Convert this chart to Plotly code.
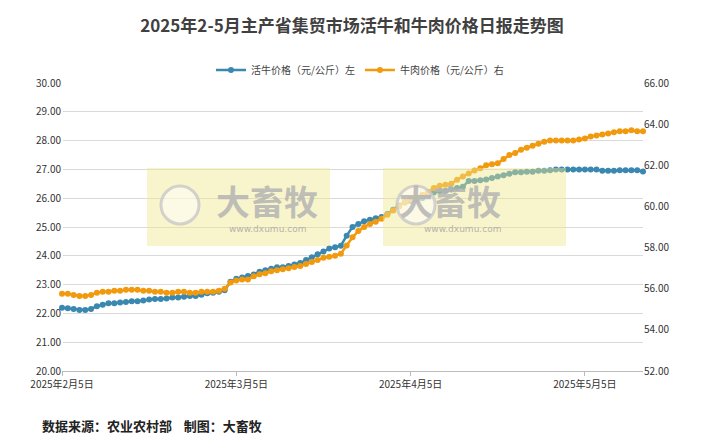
import plotly.graph_objects as go

# 活牛价格 (元/公斤), 左轴
cattle = [22.2, 22.18, 22.15, 22.12, 22.12, 22.15, 22.25, 22.3, 22.35, 22.35,
          22.38, 22.4, 22.42, 22.42, 22.45, 22.48, 22.5, 22.5, 22.52, 22.55,
          22.55, 22.58, 22.6, 22.6, 22.65, 22.7, 22.72, 22.75, 22.8, 23.1,
          23.2, 23.25, 23.3, 23.35, 23.45, 23.5, 23.55, 23.6, 23.6, 23.65,
          23.7, 23.75, 23.85, 23.95, 24.05, 24.15, 24.25, 24.3, 24.35, 24.7,
          25.0, 25.1, 25.2, 25.25, 25.3, 25.35, 25.45, 25.6, 25.75, 25.85,
          25.9, 25.95, 26.0, 26.1, 26.2, 26.25, 26.25, 26.3, 26.35, 26.4,
          26.6, 26.6, 26.62, 26.65, 26.7, 26.75, 26.8, 26.85, 26.9, 26.9,
          26.92, 26.92, 26.95, 26.95, 26.97, 27.0, 27.0, 27.0, 27.0, 27.0,
          27.0, 27.0, 27.0, 26.95, 26.95, 26.95, 26.97, 26.97, 26.97, 26.97, 26.93]

# 牛肉价格 (元/公斤), 右轴
beef = [55.75, 55.75, 55.7, 55.65, 55.65, 55.7, 55.8, 55.85, 55.85, 55.9,
        55.9, 55.95, 55.95, 55.95, 55.9, 55.9, 55.85, 55.85, 55.8, 55.8,
        55.85, 55.85, 55.8, 55.8, 55.85, 55.85, 55.85, 55.9, 56.0, 56.3,
        56.4, 56.45, 56.45, 56.6, 56.7, 56.75, 56.85, 56.9, 56.95, 57.0,
        57.05, 57.1, 57.2, 57.3, 57.4, 57.5, 57.55, 57.6, 57.7, 58.1,
        58.5, 58.8, 59.0, 59.15, 59.25, 59.4, 59.6, 59.8, 60.0, 60.2,
        60.35, 60.45, 60.55, 60.7, 60.9, 61.0, 61.05, 61.1, 61.3, 61.45,
        61.6, 61.75, 61.85, 62.0, 62.05, 62.1, 62.3, 62.5, 62.6, 62.75,
        62.85, 62.95, 63.05, 63.15, 63.2, 63.2, 63.2, 63.2, 63.2, 63.25,
        63.3, 63.4, 63.45, 63.5, 63.55, 63.6, 63.65, 63.65, 63.7, 63.65, 63.65]

tick_pos = [0, 30, 60, 90]
tick_labels = ["2025年2月5日", "2025年3月5日", "2025年4月5日", "2025年5月5日"]

idx = list(range(len(cattle)))
font = "Noto Sans CJK SC"

fig = go.Figure()
fig.add_trace(go.Scatter(
    x=idx, y=cattle, name="活牛价格（元/公斤）左", mode="lines+markers",
    line=dict(color="#3a88b0", width=2.5), marker=dict(size=6, color="#3a88b0"),
    cliponaxis=False
))
fig.add_trace(go.Scatter(
    x=idx, y=beef, name="牛肉价格（元/公斤）右", mode="lines+markers", yaxis="y2",
    line=dict(color="#f29a0e", width=2.5), marker=dict(size=6, color="#f29a0e"),
    cliponaxis=False
))

# 页面 body 有 8px 边距, 所有像素坐标减去 8
OFF = 8
W, H = 704 - OFF, 439 - OFF
L, T, R, B = 62 - OFF, 83 - OFF, 643 - OFF, 371 - OFF


def px(x0, y0, x1, y1):
    x0, x1, y0, y1 = x0 - OFF, x1 - OFF, y0 - OFF, y1 - OFF
    return dict(x0=(x0 - L) / (R - L), x1=(x1 - L) / (R - L),
                y0=(B - y0) / (B - T), y1=(B - y1) / (B - T))


def pxx(x):
    return (x - OFF - L) / (R - L)


def pxy(y):
    return (B - (y - OFF)) / (B - T)


for bx in [147, 383]:
    fig.add_shape(type="rect", xref="paper", yref="paper", layer="above",
                  fillcolor="rgba(240,230,140,0.45)", line_width=0, **px(bx, 168, bx + 183, 246))
    fig.add_shape(type="circle", xref="paper", yref="paper", layer="above",
                  fillcolor="rgba(255,255,255,0.5)", line=dict(color="rgba(200,200,200,0.8)", width=3),
                  **px(bx + 14, 186, bx + 52, 224))
    fig.add_annotation(x=pxx(bx + 120), y=pxy(200), xref="paper", yref="paper",
                       text="<b>大畜牧</b>", showarrow=False,
                       font=dict(family=font, size=34, color="rgba(180,180,180,0.85)"))
    fig.add_annotation(x=pxx(bx + 120), y=pxy(229), xref="paper", yref="paper",
                       text="www.dxumu.com", showarrow=False,
                       font=dict(family="DejaVu Sans", size=9, color="rgba(170,170,170,0.9)"))

fig.add_annotation(x=pxx(40), y=pxy(425), xref="paper", yref="paper",
                   xanchor="left", yanchor="middle",
                   text="<b>数据来源：农业农村部    制图：大畜牧</b>", showarrow=False,
                   font=dict(family=font, size=13, color="#222"))

fig.update_layout(
    width=W, height=H,
    margin=dict(l=L, r=W - R, t=T, b=H - B, autoexpand=False),
    paper_bgcolor="white", plot_bgcolor="white",
    title=dict(text="<b>2025年2-5月主产省集贸市场活牛和牛肉价格日报走势图</b>", x=(352 - OFF) / W,
               y=1 - (26 - OFF) / H, yanchor="middle", font=dict(family=font, size=17, color="#404040")),
    font=dict(family=font, size=10, color="#444"),
    legend=dict(orientation="h", x=pxx(360), xanchor="center", y=pxy(70), yanchor="middle",
                font=dict(size=10, color="#444")),
    showlegend=True,
    xaxis=dict(range=[0, 100], tickvals=tick_pos, ticktext=tick_labels, showgrid=False,
               showline=True, linecolor="#bbb", ticks="outside", ticklen=4, tickcolor="#bbb",
               tickfont=dict(size=10, color="#333")),
    yaxis=dict(range=[20, 30], dtick=1, tickformat=".2f", gridcolor="#d9d9d9",
               zeroline=False, tickfont=dict(size=10, color="#333")),
    yaxis2=dict(range=[52, 66], dtick=2, tickformat=".2f", overlaying="y", side="right",
                showgrid=False, zeroline=False, tickfont=dict(size=10, color="#333")),
)

fig.write_html("out.html")
